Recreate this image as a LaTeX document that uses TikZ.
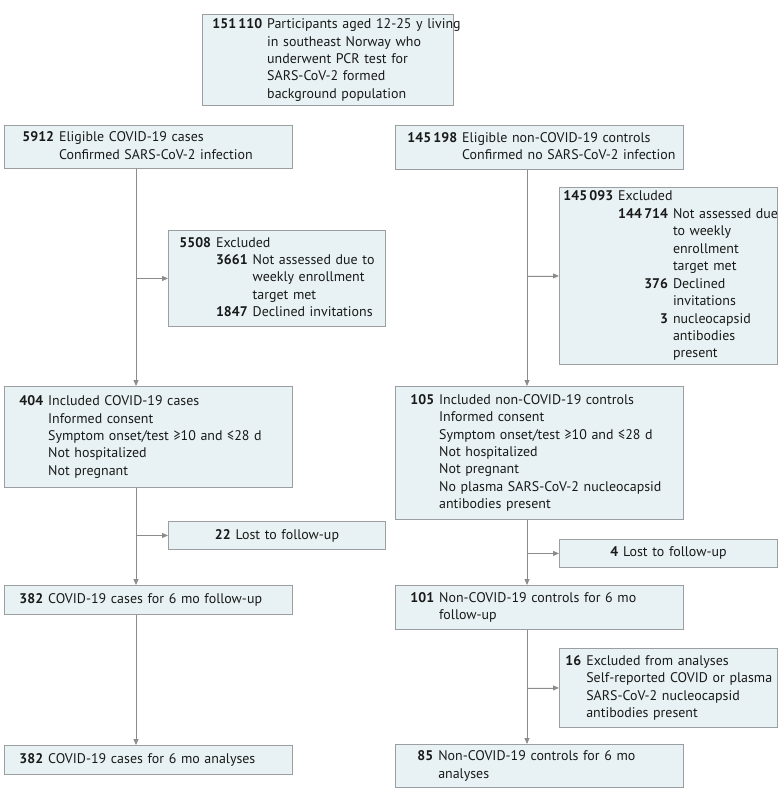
\documentclass[tikz,border=0pt]{standalone}
\usepackage{fontspec}
\setmainfont{PT Sans}
\usepackage{tikz}
\usetikzlibrary{arrows.meta, positioning, calc}
\definecolor{boxfill}{RGB}{232,242,244}
\definecolor{boxline}{RGB}{155,159,161}
\definecolor{flowgray}{RGB}{140,140,140}
\definecolor{txtdark}{RGB}{25,25,25}
\newcommand{\cnt}[1]{\textbf{#1}}
\tikzset{
  fbox/.style={rectangle, draw=boxline, fill=boxfill, anchor=north west,
    line width=0.9bp, inner xsep=15bp, inner ysep=0pt, align=left,
    text=txtdark},
  lostbox/.style={fbox, align=center, inner xsep=10bp},
  flow/.style={-{Triangle[length=6bp,width=5bp]}, line width=0.8bp,
    draw=flowgray, fill=flowgray}
}

\begin{document}
\begin{tikzpicture}[x=1bp, y=-1bp, font=\fontsize{14}{17.5}\selectfont]
  \useasboundingbox (0,0) rectangle (780,800);
  % background population
  \node[fbox, text width=231bp, minimum height=91bp, inner xsep=10bp] (top) at (202,14)
    {\begin{tabular}{@{}r@{\hspace{5bp}}l@{}}
      \cnt{151\,110} & Participants aged 12-25 y living\\
      & in southeast Norway who\\
      & underwent PCR test for\\
      & SARS-CoV-2 formed\\
      & background population
    \end{tabular}};
  % cases
  \node[fbox, text width=252bp, minimum height=43bp, inner xsep=18bp] (c1) at (4,125)
    {\begin{tabular}{@{}r@{\hspace{5bp}}l@{}}
      \cnt{5912} & Eligible COVID-19 cases\\
      & Confirmed SARS-CoV-2 infection
    \end{tabular}};
  \node[fbox, text width=195bp, minimum height=96bp, inner xsep=11bp] (cx) at (168,230)
    {\begin{tabular}{@{}r@{\hspace{5bp}}l@{}}
      \cnt{5508} & Excluded\\
      & \begin{tabular}[t]{@{}r@{\hspace{5bp}}l@{}}
          \cnt{3661} & Not assessed due to\\
          & weekly enrollment\\
          & target met\\
          \cnt{1847} & Declined invitations
        \end{tabular}
    \end{tabular}};
  \node[fbox, text width=258bp, minimum height=101bp] (c2) at (4,386)
    {\begin{tabular}{@{}r@{\hspace{5bp}}l@{}}
      \cnt{404} & Included COVID-19 cases\\
      & Informed consent\\
      & Symptom onset/test ≥10 and ≤28 d\\
      & Not hospitalized\\
      & Not pregnant
    \end{tabular}};
  \node[lostbox, text width=197bp, minimum height=28bp] (cl) at (168,521)
    {\cnt{22}\hspace{5bp}Lost to follow-up};
  \node[fbox, text width=258bp, minimum height=29bp] (c3) at (4,585)
    {\cnt{382}\hspace{5bp}COVID-19 cases for 6 mo follow-up};
  \node[fbox, text width=258bp, minimum height=29bp] (c4) at (4,745)
    {\cnt{382}\hspace{5bp}COVID-19 cases for 6 mo analyses};
  % controls
  \node[fbox, text width=264bp, minimum height=44bp, inner xsep=12bp] (n1) at (395,125)
    {\begin{tabular}{@{}r@{\hspace{5bp}}l@{}}
      \cnt{145\,198} & Eligible non-COVID-19 controls\\
      & Confirmed no SARS-CoV-2 infection
    \end{tabular}};
  \node[fbox, text width=210bp, minimum height=177bp, inner xsep=4bp] (nx) at (559,187)
    {\begin{tabular}{@{}r@{\hspace{5bp}}l@{}}
      \cnt{145\,093} & Excluded\\
      & \begin{tabular}[t]{@{}r@{\hspace{5bp}}l@{}}
          \cnt{144\,714} & Not assessed due\\
          & to weekly\\
          & enrollment\\
          & target met\\
          \cnt{376} & Declined\\
          & invitations\\
          \cnt{3} & nucleocapsid\\
          & antibodies\\
          & present
        \end{tabular}
    \end{tabular}};
  \node[fbox, text width=258bp, minimum height=133bp] (n2) at (395,386)
    {\begin{tabular}{@{}r@{\hspace{5bp}}l@{}}
      \cnt{105} & Included non-COVID-19 controls\\
      & Informed consent\\
      & Symptom onset/test ≥10 and ≤28 d\\
      & Not hospitalized\\
      & Not pregnant\\
      & No plasma SARS-CoV-2 nucleocapsid\\
      & antibodies present
    \end{tabular}};
  \node[lostbox, text width=198bp, minimum height=28bp] (nl) at (559,539)
    {\cnt{4}\hspace{5bp}Lost to follow-up};
  \node[fbox, text width=258bp, minimum height=44bp] (n3) at (395,585)
    {\begin{tabular}{@{}r@{\hspace{5bp}}l@{}}
      \cnt{101} & Non-COVID-19 controls for 6 mo\\
      & follow-up
    \end{tabular}};
  \node[fbox, text width=206bp, minimum height=79bp, inner xsep=6bp] (nf) at (559,648)
    {\begin{tabular}{@{}r@{\hspace{5bp}}l@{}}
      \cnt{16} & Excluded from analyses\\
      & Self-reported COVID or plasma\\
      & SARS-CoV-2 nucleocapsid\\
      & antibodies present
    \end{tabular}};
  \node[fbox, text width=244bp, minimum height=43bp, inner xsep=22bp] (n4) at (395,744)
    {\begin{tabular}{@{}r@{\hspace{5bp}}l@{}}
      \cnt{85} & Non-COVID-19 controls for 6 mo\\
      & analyses
    \end{tabular}};
  % connectors
  \coordinate (lcol) at (136,0);
  \coordinate (rcol) at (527,0);
  \draw[flow] (c1.south -| lcol) -- (c2.north -| lcol);
  \draw[flow] (cx.west -| lcol) -- (cx.west);
  \draw[flow] (c2.south -| lcol) -- (c3.north -| lcol);
  \draw[flow] (cl.west -| lcol) -- (cl.west);
  \draw[flow] (c3.south -| lcol) -- (c4.north -| lcol);
  \draw[flow] (n1.south -| rcol) -- (n2.north -| rcol);
  \draw[flow] (nx.west -| rcol) -- (nx.west);
  \draw[flow] (n2.south -| rcol) -- (n3.north -| rcol);
  \draw[flow] (nl.west -| rcol) -- (nl.west);
  \draw[flow] (n3.south -| rcol) -- (n4.north -| rcol);
  \draw[flow] (nf.west -| rcol) -- (nf.west);
\end{tikzpicture}
\end{document}
